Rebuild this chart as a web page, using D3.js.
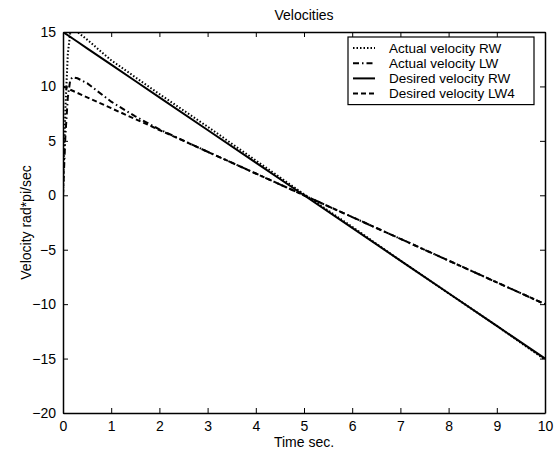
<!DOCTYPE html>
<html>
<head>
<meta charset="utf-8">
<script src="https://cdn.jsdelivr.net/npm/d3@7"></script>
<style>
  html, body { margin: 0; padding: 0; background: #fff; }
  svg { display: block; }
  text { font-family: "Liberation Sans", Arial, sans-serif; fill: #000; }
</style>
</head>
<body>
<svg id="chart" width="557" height="457"></svg>
<script>
// Sample times (seconds)
const time = [0, 0.05, 0.1, 0.15, 0.2, 0.3, 0.5, 1, 1.5, 2, 3, 4, 5, 6, 7, 8, 9, 10];

// Wheel velocities (rad*pi/sec)
const actualRW  = [0, 8, 13, 14.9, 15.1, 15.0, 14.3, 12.4, 10.85, 9.3, 6.3, 3.2, 0.1, -2.9, -6.0, -9.0, -12.0, -15.1];
const actualLW  = [0, 5.5, 9.0, 10.6, 10.85, 10.75, 10.3, 8.6, 7.25, 6.05, 4.0, 2.0, 0.0, -2.0, -4.0, -6.0, -8.0, -10.0];
const desiredRW = [15, 14.85, 14.7, 14.55, 14.4, 14.1, 13.5, 12, 10.5, 9, 6, 3, 0, -3, -6, -9, -12, -15];
const desiredLW = [10, 9.9, 9.8, 9.7, 9.6, 9.4, 9, 8, 7, 6, 4, 2, 0, -2, -4, -6, -8, -10];

const xTicks = [0, 1, 2, 3, 4, 5, 6, 7, 8, 9, 10];
const yTicks = [-20, -15, -10, -5, 0, 5, 10, 15];

const seriesNames = ["Actual velocity RW", "Actual velocity LW", "Desired velocity RW", "Desired velocity LW4"];
const seriesDash = ["1.5,2", "6,3,1.5,3", null, "5,3"];
const seriesValues = [actualRW, actualLW, desiredRW, desiredLW];

const FONT = "14px";
const LEGEND_FONT = "13.5px";
const svg = d3.select("#chart");
const margin = { left: 63, right: 12, top: 32, bottom: 44 };
const W = 557, H = 457;

const x = d3.scaleLinear().domain([0, 10]).range([margin.left, W - margin.right]);
const y = d3.scaleLinear().domain([-20, 15]).range([H - margin.bottom, margin.top]);

svg.append("defs").append("clipPath").attr("id", "clip")
  .append("rect")
  .attr("x", x(0)).attr("y", y(15))
  .attr("width", x(10) - x(0)).attr("height", y(-20) - y(15));

// Curves
const plot = svg.append("g").attr("clip-path", "url(#clip)");
const line = d3.line().x((d, i) => x(time[i])).y(d => y(d));
seriesValues.forEach((vals, k) => {
  plot.append("path")
    .attr("d", line(vals))
    .attr("fill", "none")
    .attr("stroke", "#000")
    .attr("stroke-width", 2)
    .attr("stroke-dasharray", seriesDash[k]);
});

// Axes with inward ticks on all four sides
const tickLen = 5;
const axBottom = d3.axisBottom(x).tickValues(xTicks).tickSizeInner(-tickLen).tickSizeOuter(0).tickPadding(8);
const axTop = d3.axisTop(x).tickValues(xTicks).tickSizeInner(-tickLen).tickSizeOuter(0).tickFormat("");
const axLeft = d3.axisLeft(y).tickValues(yTicks).tickSizeInner(-tickLen).tickSizeOuter(0).tickPadding(7);
const axRight = d3.axisRight(y).tickValues(yTicks).tickSizeInner(-tickLen).tickSizeOuter(0).tickFormat("");

function style(g) {
  g.select(".domain").attr("stroke", "#000").attr("stroke-width", 1.5);
  g.selectAll(".tick line").attr("stroke", "#000").attr("stroke-width", 1);
  g.selectAll(".tick text").style("font-size", FONT).style("font-family", "'Liberation Sans', Arial, sans-serif");
}

svg.append("g").attr("transform", `translate(0,${y(-20)})`).call(axBottom).call(style);
svg.append("g").attr("transform", `translate(0,${y(15)})`).call(axTop).call(style);
svg.append("g").attr("transform", `translate(${x(0)},0)`).call(axLeft).call(style);
svg.append("g").attr("transform", `translate(${x(10)},0)`).call(axRight).call(style);

// Titles
svg.append("text").attr("x", (x(0) + x(10)) / 2).attr("y", 20)
  .attr("text-anchor", "middle").style("font-size", FONT).text("Velocities");
svg.append("text").attr("x", (x(0) + x(10)) / 2).attr("y", 447)
  .attr("text-anchor", "middle").style("font-size", FONT).text("Time sec.");
svg.append("text")
  .attr("transform", `translate(31,${(y(15) + y(-20)) / 2}) rotate(-90)`)
  .attr("text-anchor", "middle").style("font-size", FONT).text("Velocity rad*pi/sec");

// Legend
const rowH = 15.2;
const lg = svg.append("g").attr("transform", "translate(348,37)");
lg.append("rect").attr("width", 186).attr("height", 12 + 3 * rowH + 10)
  .attr("fill", "#fff").attr("stroke", "#000").attr("stroke-width", 1.2);
seriesNames.forEach((name, k) => {
  const yy = 11 + k * rowH;
  lg.append("line").attr("x1", 5).attr("x2", 27).attr("y1", yy).attr("y2", yy)
    .attr("stroke", "#000").attr("stroke-width", 2).attr("stroke-dasharray", seriesDash[k]);
  lg.append("text").attr("x", 41).attr("y", yy + 4.8).style("font-size", LEGEND_FONT).text(name);
});
</script>
</body>
</html>
